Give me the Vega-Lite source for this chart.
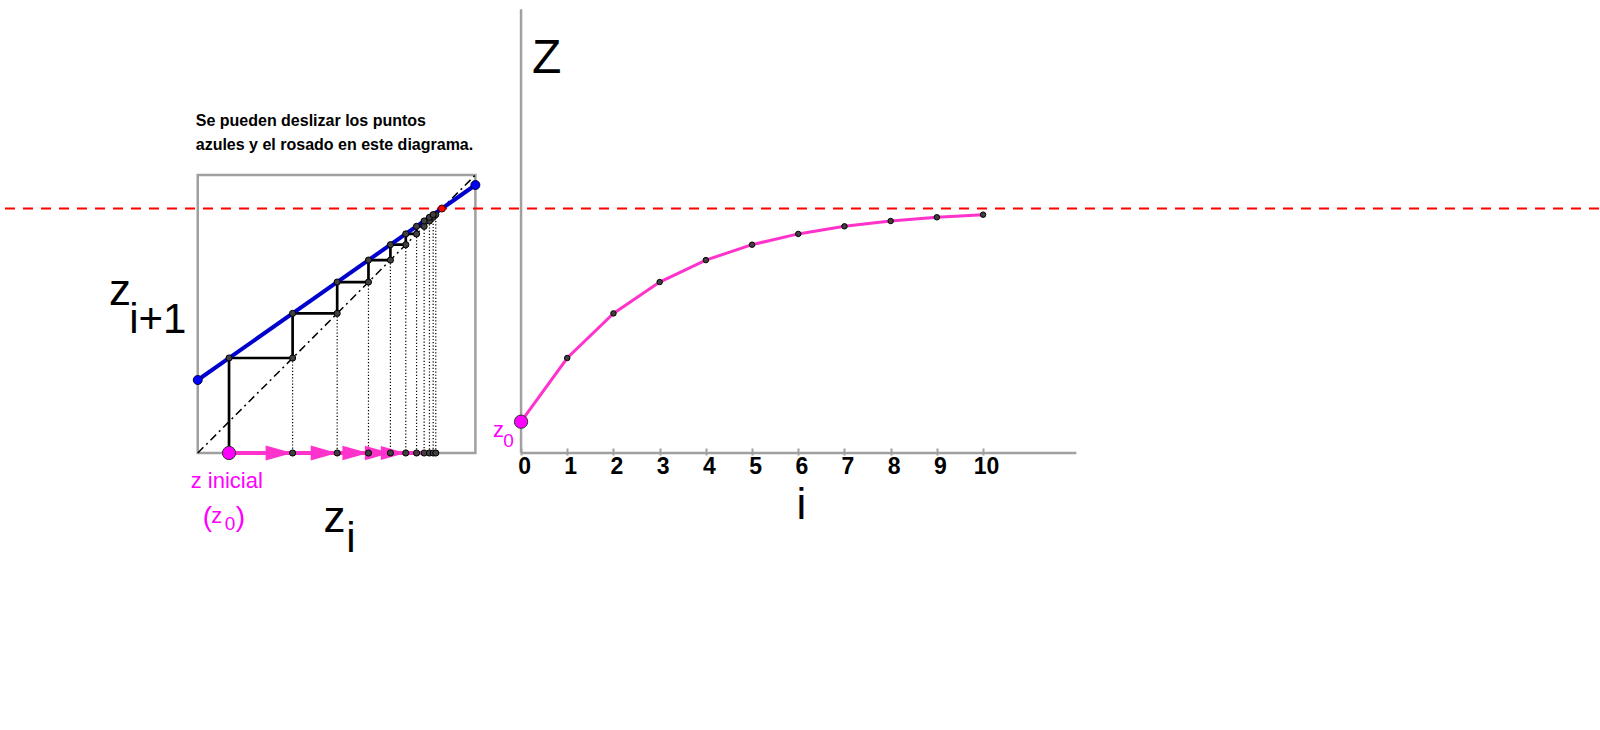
{
  "$schema": "https://vega.github.io/schema/vega-lite/v6.json",
  "width": 1600,
  "height": 730,
  "autosize": {"type": "fit", "contains": "padding"},
  "padding": 0,
  "background": "white",
  "config": {"view": {"stroke": null}, "font": "Liberation Sans"},
  "datasets": {
    "seq": [
      {"k": 0, "z": 0.1127, "zn": 0.3417},
      {"k": 1, "z": 0.3417, "zn": 0.5022},
      {"k": 2, "z": 0.5022, "zn": 0.6149},
      {"k": 3, "z": 0.6149, "zn": 0.6939},
      {"k": 4, "z": 0.6939, "zn": 0.7493},
      {"k": 5, "z": 0.7493, "zn": 0.7881},
      {"k": 6, "z": 0.7881, "zn": 0.8154},
      {"k": 7, "z": 0.8154, "zn": 0.8345},
      {"k": 8, "z": 0.8345, "zn": 0.8479},
      {"k": 9, "z": 0.8479, "zn": 0.8573},
      {"k": 10, "z": 0.8573, "zn": 0.8639}
    ],
    "cobweb": [
      {"o": 0, "x": 0.1127, "y": 0},
      {"o": 1, "x": 0.1127, "y": 0.3417},
      {"o": 2, "x": 0.3417, "y": 0.3417},
      {"o": 3, "x": 0.3417, "y": 0.5022},
      {"o": 4, "x": 0.5022, "y": 0.5022},
      {"o": 5, "x": 0.5022, "y": 0.6149},
      {"o": 6, "x": 0.6149, "y": 0.6149},
      {"o": 7, "x": 0.6149, "y": 0.6939},
      {"o": 8, "x": 0.6939, "y": 0.6939},
      {"o": 9, "x": 0.6939, "y": 0.7493},
      {"o": 10, "x": 0.7493, "y": 0.7493},
      {"o": 11, "x": 0.7493, "y": 0.7881},
      {"o": 12, "x": 0.7881, "y": 0.7881},
      {"o": 13, "x": 0.7881, "y": 0.8154},
      {"o": 14, "x": 0.8154, "y": 0.8154},
      {"o": 15, "x": 0.8154, "y": 0.8345},
      {"o": 16, "x": 0.8345, "y": 0.8345},
      {"o": 17, "x": 0.8345, "y": 0.8479},
      {"o": 18, "x": 0.8479, "y": 0.8479},
      {"o": 19, "x": 0.8479, "y": 0.8573},
      {"o": 20, "x": 0.8573, "y": 0.8573}
    ],
    "box": [{"x0": 0, "x1": 1, "y0": 0, "y1": 1}],
    "diag": [{"x": 0, "y": 0}, {"x": 1, "y": 1}],
    "fline": [{"x": 0, "y": 0.2626}, {"x": 1, "y": 0.964}],
    "fixed": [{"z": 0.8794}],
    "base": [{"from": 0.1127, "to": 0.8573, "level": 0}],
    "arrows": [
      {"k": 1, "tip": 0.3417},
      {"k": 2, "tip": 0.5022},
      {"k": 3, "tip": 0.6149},
      {"k": 4, "tip": 0.6939},
      {"k": 5, "tip": 0.7493}
    ],
    "axes": [{"i0": 0, "i1": 12.02, "z0": 0, "z1": 1.596}],
    "note": [
      {"t": "Se pueden deslizar los puntos", "x": -0.0072, "y": 1.1773},
      {"t": "azules y el rosado en este diagrama.", "x": -0.0072, "y": 1.0899}
    ],
    "leftBig": [
      {"t": "z", "x": -0.32, "y": 0.532},
      {"t": "z", "x": 0.453, "y": -0.284}
    ],
    "leftSub": [
      {"t": "i+1", "x": -0.247, "y": 0.432},
      {"t": "i", "x": 0.535, "y": -0.356}
    ],
    "pinkText": [
      {"t": "z inicial", "x": -0.0252, "y": -0.1248},
      {"t": "z", "x": 0.0486, "y": -0.2518}
    ],
    "pinkSub": [{"t": "0", "x": 0.0971, "y": -0.277}],
    "pinkParen": [
      {"t": "(", "x": 0.018, "y": -0.2626},
      {"t": ")", "x": 0.1367, "y": -0.2626}
    ],
    "rightBig": [
      {"t": "Z", "x": 0.552, "y": 1.367}
    ],
    "rightI": [
      {"t": "i", "x": 6.07, "y": -0.2374}
    ],
    "rightPink": [{"t": "z", "x": -0.605, "y": 0.0586}],
    "rightPinkSub": [{"t": "0", "x": -0.383, "y": 0.0227}]
  },
  "resolve": {"scale": {"x": "independent"}},
  "layer": [
    {
      "data": {"name": "box"},
      "mark": {"type": "rect", "fill": null, "stroke": "#a0a0a0", "strokeWidth": 2.5},
      "encoding": {
        "x": {"field": "x0", "type": "quantitative", "scale": {"domain": [-0.7086, 5.0468], "nice": false, "zero": false}, "axis": null},
        "x2": {"field": "x1"},
        "y": {"field": "y0", "type": "quantitative", "scale": {"domain": [-0.9964, 1.6295], "nice": false, "zero": false}, "axis": null},
        "y2": {"field": "y1"}
      }
    },
    {
      "data": {"name": "fixed"},
      "mark": {"type": "rule", "color": "#ff0000", "strokeWidth": 2, "strokeDash": [10, 8]},
      "encoding": {
        "y": {"field": "z", "type": "quantitative", "scale": {"domain": [-0.9964, 1.6295], "nice": false, "zero": false}, "axis": null}
      }
    },
    {
      "data": {"name": "diag"},
      "mark": {"type": "line", "color": "#000000", "strokeWidth": 1.5, "strokeDash": [8, 4, 2, 4]},
      "encoding": {
        "x": {"field": "x", "type": "quantitative", "scale": {"domain": [-0.7086, 5.0468], "nice": false, "zero": false}, "axis": null},
        "y": {"field": "y", "type": "quantitative", "scale": {"domain": [-0.9964, 1.6295], "nice": false, "zero": false}, "axis": null}
      }
    },
    {
      "data": {"name": "seq"},
      "transform": [{"filter": "datum.k >= 1"}],
      "mark": {"type": "rule", "color": "#000000", "strokeWidth": 1.2, "strokeDash": [1.2, 2]},
      "encoding": {
        "x": {"field": "z", "type": "quantitative", "scale": {"domain": [-0.7086, 5.0468], "nice": false, "zero": false}, "axis": null},
        "y": {"field": "z", "type": "quantitative", "scale": {"domain": [-0.9964, 1.6295], "nice": false, "zero": false}, "axis": null},
        "y2": {"datum": 0}
      }
    },
    {
      "data": {"name": "cobweb"},
      "mark": {"type": "line", "color": "#000000", "strokeWidth": 2.7},
      "encoding": {
        "x": {"field": "x", "type": "quantitative", "scale": {"domain": [-0.7086, 5.0468], "nice": false, "zero": false}, "axis": null},
        "y": {"field": "y", "type": "quantitative", "scale": {"domain": [-0.9964, 1.6295], "nice": false, "zero": false}, "axis": null},
        "order": {"field": "o", "type": "quantitative"}
      }
    },
    {
      "data": {"name": "fline"},
      "mark": {"type": "line", "color": "#0000cc", "strokeWidth": 4},
      "encoding": {
        "x": {"field": "x", "type": "quantitative", "scale": {"domain": [-0.7086, 5.0468], "nice": false, "zero": false}, "axis": null},
        "y": {"field": "y", "type": "quantitative", "scale": {"domain": [-0.9964, 1.6295], "nice": false, "zero": false}, "axis": null}
      }
    },
    {
      "data": {"name": "base"},
      "mark": {"type": "rule", "color": "#ff33cc", "strokeWidth": 4},
      "encoding": {
        "x": {"field": "from", "type": "quantitative", "scale": {"domain": [-0.7086, 5.0468], "nice": false, "zero": false}, "axis": null},
        "x2": {"field": "to"},
        "y": {"field": "level", "type": "quantitative", "scale": {"domain": [-0.9964, 1.6295], "nice": false, "zero": false}, "axis": null}
      }
    },
    {
      "data": {"name": "arrows"},
      "mark": {"type": "point", "shape": "M-2,-0.56L0,0L-2,0.56Z", "filled": true, "color": "#ff33cc", "opacity": 1, "strokeWidth": 0},
      "encoding": {
        "x": {"field": "tip", "type": "quantitative", "scale": {"domain": [-0.7086, 5.0468], "nice": false, "zero": false}, "axis": null},
        "y": {"datum": 0, "type": "quantitative", "scale": {"domain": [-0.9964, 1.6295], "nice": false, "zero": false}, "axis": null},
        "size": {"field": "k", "type": "ordinal", "scale": {"domain": [1, 2, 3, 4, 5], "range": [729, 625, 676, 400, 144]}, "legend": null}
      }
    },
    {
      "data": {"name": "seq"},
      "transform": [{"filter": "datum.k >= 1"}],
      "mark": {"type": "point", "filled": true, "fill": "#404040", "stroke": "#000000", "strokeWidth": 1, "opacity": 1, "size": 38},
      "encoding": {
        "x": {"field": "z", "type": "quantitative", "scale": {"domain": [-0.7086, 5.0468], "nice": false, "zero": false}, "axis": null},
        "y": {"datum": 0, "type": "quantitative", "scale": {"domain": [-0.9964, 1.6295], "nice": false, "zero": false}, "axis": null}
      }
    },
    {
      "data": {"name": "seq"},
      "transform": [{"filter": "datum.k >= 1"}],
      "mark": {"type": "point", "filled": true, "fill": "#404040", "stroke": "#000000", "strokeWidth": 1, "opacity": 1, "size": 38},
      "encoding": {
        "x": {"field": "z", "type": "quantitative", "scale": {"domain": [-0.7086, 5.0468], "nice": false, "zero": false}, "axis": null},
        "y": {"field": "z", "type": "quantitative", "scale": {"domain": [-0.9964, 1.6295], "nice": false, "zero": false}, "axis": null}
      }
    },
    {
      "data": {"name": "seq"},
      "transform": [{"filter": "datum.k <= 9"}],
      "mark": {"type": "point", "filled": true, "fill": "#404040", "stroke": "#000000", "strokeWidth": 1, "opacity": 1, "size": 38},
      "encoding": {
        "x": {"field": "z", "type": "quantitative", "scale": {"domain": [-0.7086, 5.0468], "nice": false, "zero": false}, "axis": null},
        "y": {"field": "zn", "type": "quantitative", "scale": {"domain": [-0.9964, 1.6295], "nice": false, "zero": false}, "axis": null}
      }
    },
    {
      "data": {"name": "fline"},
      "mark": {"type": "point", "filled": true, "fill": "#0000ff", "stroke": "#000033", "strokeWidth": 1, "opacity": 1, "size": 80},
      "encoding": {
        "x": {"field": "x", "type": "quantitative", "scale": {"domain": [-0.7086, 5.0468], "nice": false, "zero": false}, "axis": null},
        "y": {"field": "y", "type": "quantitative", "scale": {"domain": [-0.9964, 1.6295], "nice": false, "zero": false}, "axis": null}
      }
    },
    {
      "data": {"name": "fixed"},
      "mark": {"type": "point", "filled": true, "fill": "#ff0000", "stroke": "#330000", "strokeWidth": 1, "opacity": 1, "size": 50},
      "encoding": {
        "x": {"field": "z", "type": "quantitative", "scale": {"domain": [-0.7086, 5.0468], "nice": false, "zero": false}, "axis": null},
        "y": {"field": "z", "type": "quantitative", "scale": {"domain": [-0.9964, 1.6295], "nice": false, "zero": false}, "axis": null}
      }
    },
    {
      "data": {"name": "seq"},
      "transform": [{"filter": "datum.k == 0"}],
      "mark": {"type": "point", "filled": true, "fill": "#ff00ff", "stroke": "#333333", "strokeWidth": 1, "opacity": 1, "size": 177},
      "encoding": {
        "x": {"field": "z", "type": "quantitative", "scale": {"domain": [-0.7086, 5.0468], "nice": false, "zero": false}, "axis": null},
        "y": {"datum": 0, "type": "quantitative", "scale": {"domain": [-0.9964, 1.6295], "nice": false, "zero": false}, "axis": null}
      }
    },
    {
      "data": {"name": "note"},
      "mark": {"type": "text", "align": "left", "baseline": "alphabetic", "fontSize": 16, "fontWeight": "bold", "color": "#000000", "font": "Liberation Sans"},
      "encoding": {
        "x": {"field": "x", "type": "quantitative", "scale": {"domain": [-0.7086, 5.0468], "nice": false, "zero": false}, "axis": null},
        "y": {"field": "y", "type": "quantitative", "scale": {"domain": [-0.9964, 1.6295], "nice": false, "zero": false}, "axis": null},
        "text": {"field": "t"}
      }
    },
    {
      "data": {"name": "leftBig"},
      "mark": {"type": "text", "align": "left", "baseline": "alphabetic", "fontSize": 44, "color": "#000000", "font": "Liberation Sans"},
      "encoding": {
        "x": {"field": "x", "type": "quantitative", "scale": {"domain": [-0.7086, 5.0468], "nice": false, "zero": false}, "axis": null},
        "y": {"field": "y", "type": "quantitative", "scale": {"domain": [-0.9964, 1.6295], "nice": false, "zero": false}, "axis": null},
        "text": {"field": "t"}
      }
    },
    {
      "data": {"name": "leftSub"},
      "mark": {"type": "text", "align": "left", "baseline": "alphabetic", "fontSize": 42, "color": "#000000", "font": "Liberation Sans"},
      "encoding": {
        "x": {"field": "x", "type": "quantitative", "scale": {"domain": [-0.7086, 5.0468], "nice": false, "zero": false}, "axis": null},
        "y": {"field": "y", "type": "quantitative", "scale": {"domain": [-0.9964, 1.6295], "nice": false, "zero": false}, "axis": null},
        "text": {"field": "t"}
      }
    },
    {
      "data": {"name": "pinkText"},
      "mark": {"type": "text", "align": "left", "baseline": "alphabetic", "fontSize": 22, "color": "#ff00ff", "font": "Liberation Sans"},
      "encoding": {
        "x": {"field": "x", "type": "quantitative", "scale": {"domain": [-0.7086, 5.0468], "nice": false, "zero": false}, "axis": null},
        "y": {"field": "y", "type": "quantitative", "scale": {"domain": [-0.9964, 1.6295], "nice": false, "zero": false}, "axis": null},
        "text": {"field": "t"}
      }
    },
    {
      "data": {"name": "pinkSub"},
      "mark": {"type": "text", "align": "left", "baseline": "alphabetic", "fontSize": 19, "color": "#ff00ff", "font": "Liberation Sans"},
      "encoding": {
        "x": {"field": "x", "type": "quantitative", "scale": {"domain": [-0.7086, 5.0468], "nice": false, "zero": false}, "axis": null},
        "y": {"field": "y", "type": "quantitative", "scale": {"domain": [-0.9964, 1.6295], "nice": false, "zero": false}, "axis": null},
        "text": {"field": "t"}
      }
    },
    {
      "data": {"name": "pinkParen"},
      "mark": {"type": "text", "align": "left", "baseline": "alphabetic", "fontSize": 28, "color": "#ff00ff", "font": "Liberation Sans"},
      "encoding": {
        "x": {"field": "x", "type": "quantitative", "scale": {"domain": [-0.7086, 5.0468], "nice": false, "zero": false}, "axis": null},
        "y": {"field": "y", "type": "quantitative", "scale": {"domain": [-0.9964, 1.6295], "nice": false, "zero": false}, "axis": null},
        "text": {"field": "t"}
      }
    },
    {
      "data": {"name": "axes"},
      "mark": {"type": "rule", "color": "#a0a0a0", "strokeWidth": 2.5},
      "encoding": {
        "x": {"field": "i0", "type": "quantitative", "scale": {"domain": [-11.256, 23.331], "nice": false, "zero": false},
          "axis": {"values": [0, 1, 2, 3, 4, 5, 6, 7, 8, 9, 10], "orient": "bottom", "offset": -282, "domain": false, "grid": false, "ticks": true, "tickColor": "#a0a0a0", "tickWidth": 2, "tickSize": 7, "labelFont": "Liberation Sans", "labelFontSize": 23, "labelFontWeight": "bold", "labelColor": "#000000", "labelPadding": 0, "labelOffset": 3, "labelFlush": false, "labelOverlap": false, "title": null}},
        "x2": {"field": "i1"},
        "y": {"field": "z0", "type": "quantitative", "scale": {"domain": [-0.9964, 1.6295], "nice": false, "zero": false}, "axis": null}
      }
    },
    {
      "data": {"name": "axes"},
      "mark": {"type": "rule", "color": "#a0a0a0", "strokeWidth": 2.5},
      "encoding": {
        "x": {"field": "i0", "type": "quantitative", "scale": {"domain": [-11.256, 23.331], "nice": false, "zero": false}, "axis": null},
        "y": {"field": "z0", "type": "quantitative", "scale": {"domain": [-0.9964, 1.6295], "nice": false, "zero": false}, "axis": null},
        "y2": {"field": "z1"}
      }
    },
    {
      "data": {"name": "seq"},
      "mark": {"type": "line", "color": "#ff33cc", "strokeWidth": 3},
      "encoding": {
        "x": {"field": "k", "type": "quantitative", "scale": {"domain": [-11.256, 23.331], "nice": false, "zero": false}, "axis": null},
        "y": {"field": "z", "type": "quantitative", "scale": {"domain": [-0.9964, 1.6295], "nice": false, "zero": false}, "axis": null}
      }
    },
    {
      "data": {"name": "seq"},
      "transform": [{"filter": "datum.k >= 1"}],
      "mark": {"type": "point", "filled": true, "fill": "#404040", "stroke": "#000000", "strokeWidth": 1, "opacity": 1, "size": 30},
      "encoding": {
        "x": {"field": "k", "type": "quantitative", "scale": {"domain": [-11.256, 23.331], "nice": false, "zero": false}, "axis": null},
        "y": {"field": "z", "type": "quantitative", "scale": {"domain": [-0.9964, 1.6295], "nice": false, "zero": false}, "axis": null}
      }
    },
    {
      "data": {"name": "seq"},
      "transform": [{"filter": "datum.k == 0"}],
      "mark": {"type": "point", "filled": true, "fill": "#ff00ff", "stroke": "#333333", "strokeWidth": 1, "opacity": 1, "size": 177},
      "encoding": {
        "x": {"field": "k", "type": "quantitative", "scale": {"domain": [-11.256, 23.331], "nice": false, "zero": false}, "axis": null},
        "y": {"field": "z", "type": "quantitative", "scale": {"domain": [-0.9964, 1.6295], "nice": false, "zero": false}, "axis": null}
      }
    },
    {
      "data": {"name": "rightBig"},
      "mark": {"type": "text", "align": "center", "baseline": "alphabetic", "fontSize": 48, "color": "#000000", "font": "Liberation Sans"},
      "encoding": {
        "x": {"field": "x", "type": "quantitative", "scale": {"domain": [-11.256, 23.331], "nice": false, "zero": false}, "axis": null},
        "y": {"field": "y", "type": "quantitative", "scale": {"domain": [-0.9964, 1.6295], "nice": false, "zero": false}, "axis": null},
        "text": {"field": "t"}
      }
    },
    {
      "data": {"name": "rightI"},
      "mark": {"type": "text", "align": "center", "baseline": "alphabetic", "fontSize": 44, "color": "#000000", "font": "Liberation Sans"},
      "encoding": {
        "x": {"field": "x", "type": "quantitative", "scale": {"domain": [-11.256, 23.331], "nice": false, "zero": false}, "axis": null},
        "y": {"field": "y", "type": "quantitative", "scale": {"domain": [-0.9964, 1.6295], "nice": false, "zero": false}, "axis": null},
        "text": {"field": "t"}
      }
    },
    {
      "data": {"name": "rightPink"},
      "mark": {"type": "text", "align": "left", "baseline": "alphabetic", "fontSize": 22, "color": "#ff00ff", "font": "Liberation Sans"},
      "encoding": {
        "x": {"field": "x", "type": "quantitative", "scale": {"domain": [-11.256, 23.331], "nice": false, "zero": false}, "axis": null},
        "y": {"field": "y", "type": "quantitative", "scale": {"domain": [-0.9964, 1.6295], "nice": false, "zero": false}, "axis": null},
        "text": {"field": "t"}
      }
    },
    {
      "data": {"name": "rightPinkSub"},
      "mark": {"type": "text", "align": "left", "baseline": "alphabetic", "fontSize": 19, "color": "#ff00ff", "font": "Liberation Sans"},
      "encoding": {
        "x": {"field": "x", "type": "quantitative", "scale": {"domain": [-11.256, 23.331], "nice": false, "zero": false}, "axis": null},
        "y": {"field": "y", "type": "quantitative", "scale": {"domain": [-0.9964, 1.6295], "nice": false, "zero": false}, "axis": null},
        "text": {"field": "t"}
      }
    }
  ]
}
